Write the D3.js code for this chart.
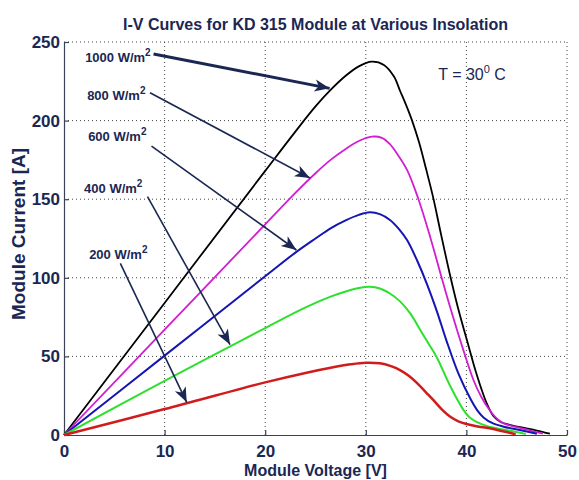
<!DOCTYPE html>
<html>
<head>
<meta charset="utf-8">
<script src="https://cdn.jsdelivr.net/npm/d3@7"></script>
<style>
    body { margin: 0; background: #fff; }
    text { font-family: "Liberation Sans", Arial, sans-serif; }
</style>
</head>
<body>
<div id="chart"></div>
<script>
//Values (voltage in V, current in A)
var volt1000 = [0, 10, 20, 23, 25, 26.5, 28, 29.3, 30.6, 31.8, 32.8, 33.4, 34, 34.6, 35.3, 36, 36.7, 37.5, 38.4, 39.2, 40.2, 41, 42, 42.7, 43.4, 44.5, 45.5, 47, 48.3];
var curr1000 = [0, 84, 168, 193, 209, 219.5, 228.5, 234.5, 237.5, 235.4, 228, 219, 210, 200, 186, 169, 151, 127, 101, 80, 57, 39, 20.5, 12, 8.3, 6.2, 4.8, 2.8, 0.8];

var volt800 = [0, 10, 20, 23, 25, 26.5, 28, 29.3, 30.6, 31.6, 32.4, 33.1, 34.1, 35.2, 36.4, 37.5, 38.4, 39.7, 40.7, 41.5, 42.3, 43.1, 43.7, 45, 46.3, 47.6];
var curr800 = [0, 67, 134, 154, 166.5, 175, 182, 187, 189.8, 189, 185, 179, 168.6, 150.6, 126, 101, 81, 54, 35, 24, 15.9, 10, 7.4, 5, 3, 0.8];

var volt600 = [0, 10, 20, 23, 25, 26.5, 28, 29.3, 30.4, 31.4, 32.4, 33.3, 34.1, 35.1, 36.05, 37.05, 38, 39.2, 40.4, 41.1, 41.7, 42.6, 43.7, 45.3, 47];
var curr600 = [0, 50.5, 101, 116, 125, 131.5, 136.5, 140, 141.7, 140.5, 136.8, 131, 124, 111, 96.5, 79, 60.4, 39.2, 23, 15.5, 11.2, 7.5, 5.3, 3.2, 0.8];

var volt400 = [0, 10, 20, 23, 25, 26.5, 28, 29.3, 30.4, 31.4, 32.4, 33.4, 34.4, 35.4, 36.2, 37.05, 38.4, 39.7, 40.3, 41, 42, 43, 44.5, 45.9];
var curr400 = [0, 34.5, 68, 78, 84, 88, 91.3, 93.5, 94.3, 93.2, 90, 85, 77.5, 67, 58.5, 49.5, 31, 16, 11.3, 8.3, 5.8, 4.3, 2.5, 0.6];

var volt200 = [0, 10, 20, 24, 26.5, 28.5, 30, 31.4, 32.5, 33.4, 34.3, 35.1, 36, 36.7, 37.6, 38.4, 39.2, 40, 41, 42.3, 43.5, 44.9];
var curr200 = [0, 16.5, 33.5, 39.5, 42.8, 45, 46, 45.6, 43.8, 41.3, 37.5, 33, 27, 22.3, 16, 11.6, 8.7, 7, 5.6, 4.3, 2.6, 0.5];

var insolations = ["1000", "800", "600", "400", "200"];
var xTicks = [0, 10, 20, 30, 40, 50];
var yTicks = [0, 50, 100, 150, 200, 250];

//Label anchor and arrow start / tip, in data units (V, A)
var labelPos = [[2.1, 237.5], [2.3, 213], [2.4, 187], [2.0, 153.8], [2.5, 111.8]];
var arrowFrom = [[8.9, 242.4], [8.55, 217.7], [8.7, 183.8], [8.3, 151.6], [5.6, 109.2]];
var arrowTo = [[26.4, 220.5], [24.45, 163.5], [23.1, 117.7], [16.5, 57.5], [12.2, 20.8]];

var seriesVolt = [volt1000, volt800, volt600, volt400, volt200];
var seriesCurr = [curr1000, curr800, curr600, curr400, curr200];
var seriesColor = ["#000000", "#d21ed2", "#1515b4", "#2ee02e", "#d01c1c"];
var seriesWidth = [1.8, 1.8, 2, 2, 2.5];

var width = 579, height = 480;
var margin = {left: 64, right: 12, top: 42, bottom: 45};
var navy = "#1b2753";

var svg = d3.select("#chart")
    .append("svg")
    .attr("width", width)
    .attr("height", height);

var x = d3.scaleLinear()
    .domain([0, 50])
    .range([margin.left, width - margin.right]);

var y = d3.scaleLinear()
    .domain([0, 250])
    .range([height - margin.bottom, margin.top]);

//Dotted grid
var grid = svg.append("g");
grid.selectAll(".gx")
    .data(xTicks.slice(1))
    .enter().append("line")
    .attr("x1", function (d) { return x(d); })
    .attr("x2", function (d) { return x(d); })
    .attr("y1", y(0))
    .attr("y2", y(250))
    .attr("stroke", "#444")
    .attr("stroke-width", 1)
    .attr("stroke-dasharray", "1,3");
grid.selectAll(".gy")
    .data(yTicks.slice(1))
    .enter().append("line")
    .attr("x1", x(0))
    .attr("x2", x(50))
    .attr("y1", function (d) { return y(d); })
    .attr("y2", function (d) { return y(d); })
    .attr("stroke", "#444")
    .attr("stroke-width", 1)
    .attr("stroke-dasharray", "1,3");

//Axes, ticks point inward
var xAxis = svg.append("g")
    .attr("transform", "translate(0," + y(0) + ")")
    .call(d3.axisBottom(x).tickValues(xTicks).tickSizeInner(-5).tickSizeOuter(0).tickPadding(10));
var yAxis = svg.append("g")
    .attr("transform", "translate(" + x(0) + ",0)")
    .call(d3.axisLeft(y).tickValues(yTicks).tickSizeInner(-5).tickSizeOuter(0).tickPadding(4));

[xAxis, yAxis].forEach(function (ax) {
    ax.select(".domain").attr("stroke", "#3a4256").attr("stroke-width", 1.2);
    ax.selectAll(".tick line").attr("stroke", "#3a4256").attr("stroke-width", 1.2);
    ax.selectAll(".tick text")
        .attr("fill", navy)
        .attr("font-size", "17px")
        .attr("font-weight", "bold")
        .style("font-family", "Liberation Sans, Arial, sans-serif");
});

//Curves
var line = d3.line()
    .x(function (d) { return x(d[0]); })
    .y(function (d) { return y(d[1]); })
    .curve(d3.curveCatmullRom.alpha(0.5));

seriesVolt.forEach(function (volts, i) {
    var pts = volts.map(function (v, j) { return [v, seriesCurr[i][j]]; });
    svg.append("path")
        .datum(pts)
        .attr("d", line)
        .attr("fill", "none")
        .attr("stroke", seriesColor[i])
        .attr("stroke-width", seriesWidth[i])
        .attr("stroke-linejoin", "round");
});

//Arrow heads
var defs = svg.append("defs");
defs.append("marker")
    .attr("id", "head")
    .attr("markerUnits", "userSpaceOnUse")
    .attr("viewBox", "-16 -7 17 14")
    .attr("markerWidth", 17)
    .attr("markerHeight", 14)
    .attr("refX", 0)
    .attr("refY", 0)
    .attr("orient", "auto")
    .append("path")
    .attr("d", "M0,0 L-15,-6 L-11,0 L-15,6 Z")
    .attr("fill", navy);

//Insolation labels with arrows
insolations.forEach(function (lab, i) {
    var t = svg.append("text")
        .attr("x", x(labelPos[i][0]))
        .attr("y", y(labelPos[i][1]))
        .attr("fill", navy)
        .attr("font-size", "13px")
        .attr("font-weight", "bold");
    t.append("tspan").text(lab + " W/m");
    t.append("tspan")
        .attr("dy", "-6")
        .attr("font-size", "10px")
        .text("2");

    svg.append("line")
        .attr("x1", x(arrowFrom[i][0]))
        .attr("y1", y(arrowFrom[i][1]))
        .attr("x2", x(arrowTo[i][0]))
        .attr("y2", y(arrowTo[i][1]))
        .attr("stroke", navy)
        .attr("stroke-width", i == 0 ? 3 : 1.6)
        .attr("marker-end", "url(#head)");
});

//Temperature note
var temp = svg.append("text")
    .attr("x", x(37.2))
    .attr("y", y(226))
    .attr("fill", navy)
    .attr("font-size", "16px");
temp.append("tspan").text("T = 30");
temp.append("tspan").attr("dy", "-7").attr("font-size", "11px").text("0");
temp.append("tspan").attr("dy", "7").text(" C");

//Title and axis titles
svg.append("text")
    .attr("x", (x(0) + x(50)) / 2)
    .attr("y", 30)
    .attr("text-anchor", "middle")
    .attr("fill", navy)
    .attr("font-size", "16px")
    .attr("font-weight", "bold")
    .text("I-V Curves for KD 315 Module at Various Insolation");

svg.append("text")
    .attr("x", (x(0) + x(50)) / 2)
    .attr("y", 476)
    .attr("text-anchor", "middle")
    .attr("fill", navy)
    .attr("font-size", "16px")
    .attr("font-weight", "bold")
    .text("Module Voltage [V]");

svg.append("text")
    .attr("transform", "translate(25,234) rotate(-90)")
    .attr("text-anchor", "middle")
    .attr("fill", navy)
    .attr("font-size", "19px")
    .attr("font-weight", "bold")
    .text("Module Current [A]");
</script>
</body>
</html>
